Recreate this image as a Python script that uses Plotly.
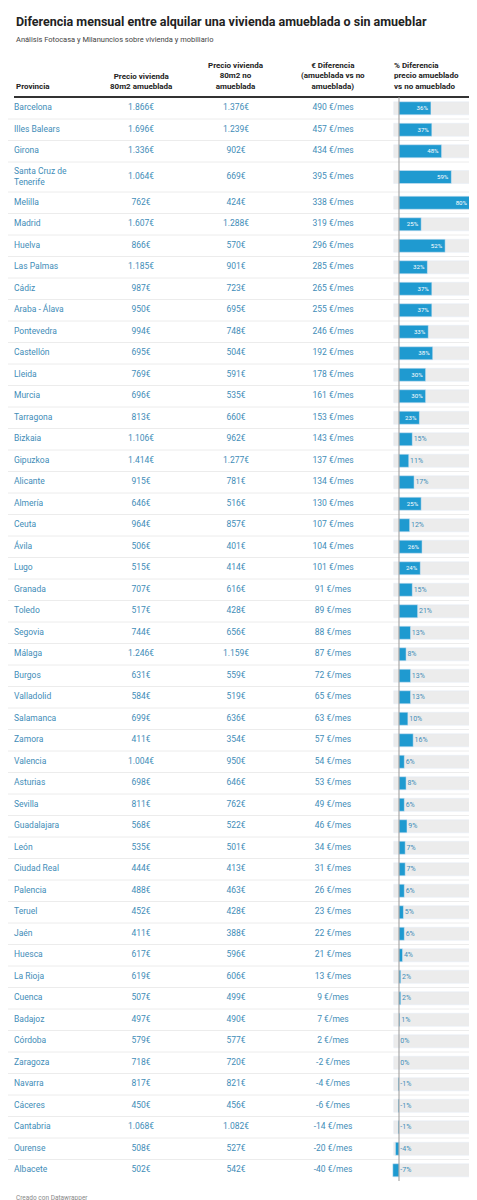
import plotly.graph_objects as go

provincias = ["Barcelona", "Illes Balears", "Girona", "Santa Cruz de<br>Tenerife", "Melilla", "Madrid", "Huelva",
              "Las Palmas", "Cádiz", "Araba - Álava", "Pontevedra", "Castellón", "Lleida", "Murcia", "Tarragona",
              "Bizkaia", "Gipuzkoa", "Alicante", "Almería", "Ceuta", "Ávila", "Lugo", "Granada", "Toledo", "Segovia",
              "Málaga", "Burgos", "Valladolid", "Salamanca", "Zamora", "Valencia", "Asturias", "Sevilla",
              "Guadalajara", "León", "Ciudad Real", "Palencia", "Teruel", "Jaén", "Huesca", "La Rioja", "Cuenca",
              "Badajoz", "Córdoba", "Zaragoza", "Navarra", "Cáceres", "Cantabria", "Ourense", "Albacete"]
amueblada = [1866, 1696, 1336, 1064, 762, 1607, 866, 1185, 987, 950, 994, 695, 769, 696, 813, 1106, 1414, 915,
             646, 964, 506, 515, 707, 517, 744, 1246, 631, 584, 699, 411, 1004, 698, 811, 568, 535, 444, 488, 452,
             411, 617, 619, 507, 497, 579, 718, 817, 450, 1068, 508, 502]
no_amueblada = [1376, 1239, 902, 669, 424, 1288, 570, 901, 723, 695, 748, 504, 591, 535, 660, 962, 1277, 781,
                516, 857, 401, 414, 616, 428, 656, 1159, 559, 519, 636, 354, 950, 646, 762, 522, 501, 413, 463, 428,
                388, 596, 606, 499, 490, 577, 720, 821, 456, 1082, 527, 542]
diferencia = [490, 457, 434, 395, 338, 319, 296, 285, 265, 255, 246, 192, 178, 161, 153, 143, 137, 134, 130, 107,
              104, 101, 91, 89, 88, 87, 72, 65, 63, 57, 54, 53, 49, 46, 34, 31, 26, 23, 22, 21, 13, 9, 7, 2, -2, -4,
              -6, -14, -20, -40]
pct = [36, 37, 48, 59, 80, 25, 52, 32, 37, 37, 33, 38, 30, 30, 23, 15, 11, 17, 25, 12, 26, 24, 15, 21, 13, 8, 13,
       13, 10, 16, 6, 8, 6, 9, 7, 7, 6, 5, 6, 4, 2, 2, 1, 0, 0, -1, -1, -1, -4, -7]
headers = ["Provincia", "Precio vivienda<br>80m2 amueblada", "Precio vivienda<br>80m2 no<br>amueblada",
           "€ Diferencia<br>(amueblada vs no<br>amueblada)", "% Diferencia<br>precio amueblado<br>vs no amueblado"]

FONT = "Roboto"
TXT = "#3f8db8"
BAR = "#1f9ad0"

def eur(v):
    return f"{v:,}€".replace(",", ".")

# row geometry (pixels, y axis reversed)
heights = [30 if "<br>" in p else 21.5 for p in provincias]
tops, y = [], 89.5
for h in heights:
    tops.append(y)
    y += h
ys = [t + h / 2 for t, h in zip(tops, heights)]
bottom = y

fig = go.Figure()
for x, vals, anchor in [(6, provincias, "middle right"), (133, [eur(v) for v in amueblada], "middle center"),
                        (228, [eur(v) for v in no_amueblada], "middle center"),
                        (325, [f"{v} €/mes" for v in diferencia], "middle center")]:
    fig.add_trace(go.Scatter(x=[x] * len(ys), y=ys, mode="text", text=vals, cliponaxis=False,
                             textposition=anchor, textfont=dict(family=FONT, size=8.5, color=TXT),
                             hoverinfo="skip"))

# bars
fig.add_trace(go.Bar(x=[86] * len(ys), base=[-6] * len(ys), y=ys, orientation="h", width=13,
                     marker_color="#ececec", xaxis="x2", hoverinfo="skip"))
inside = [p >= 22 for p in pct]
fig.add_trace(go.Bar(x=pct, y=ys, orientation="h", width=13, marker_color=BAR, xaxis="x2",
                     text=[f"{p}%" if i else "" for p, i in zip(pct, inside)], textposition="inside",
                     insidetextanchor="end", textfont=dict(family=FONT, size=7, color="white"),
                     hoverinfo="skip"))
fig.add_trace(go.Scatter(x=[max(p, 0) + 1.5 for p in pct], y=ys, mode="text", xaxis="x2", cliponaxis=False,
                         text=["" if i else f"{p}%" for p, i in zip(pct, inside)], textposition="middle right",
                         textfont=dict(family=FONT, size=7, color=TXT), hoverinfo="skip"))

shapes = [dict(type="line", x0=0, x1=471, y0=t, y1=t, xref="x", yref="y", line=dict(color="#ececec", width=1))
          for t in tops[1:]]
shapes.append(dict(type="line", x0=6, x1=471, y0=89, y1=89, xref="x", yref="y", line=dict(color="#333", width=2)))
shapes.append(dict(type="line", x0=0, x1=0, y0=89, y1=bottom, xref="x2", yref="y",
                   line=dict(color="#999", width=1)))

annotations = [dict(x=6, y=13, text="<b>Diferencia mensual entre alquilar una vivienda amueblada o sin amueblar</b>",
                    xanchor="left", font=dict(family=FONT, size=12.5, color="#222")),
               dict(x=6, y=31, text="Análisis Fotocasa y Milanuncios sobre vivienda y mobiliario",
                    xanchor="left", font=dict(family=FONT, size=7.5, color="#444")),
               dict(x=6, y=1190, text="Creado con Datawrapper", xanchor="left",
                    font=dict(family=FONT, size=6.5, color="#888"))]
for x, h, xa in zip([6, 133, 228, 325, 384], headers, ["left", "center", "center", "center", "left"]):
    annotations.append(dict(x=x, y=85, text=f"<b>{h}</b>", xanchor=xa, yanchor="bottom", align=xa,
                            font=dict(family=FONT, size=8, color="#222")))
for a in annotations:
    a.update(xref="x", yref="y", showarrow=False)

fig.update_layout(width=477, height=1200, margin=dict(l=0, r=0, t=0, b=0, autoexpand=False), showlegend=False,
                  plot_bgcolor="white", paper_bgcolor="white", barmode="overlay",
                  xaxis=dict(range=[0, 477], visible=False, fixedrange=True),
                  xaxis2=dict(range=[-391 / 0.8875, 86 / 0.8875], overlaying="x", visible=False),
                  yaxis=dict(range=[1200, 0], visible=False),
                  shapes=shapes, annotations=annotations)
fig.write_html("out.html")
